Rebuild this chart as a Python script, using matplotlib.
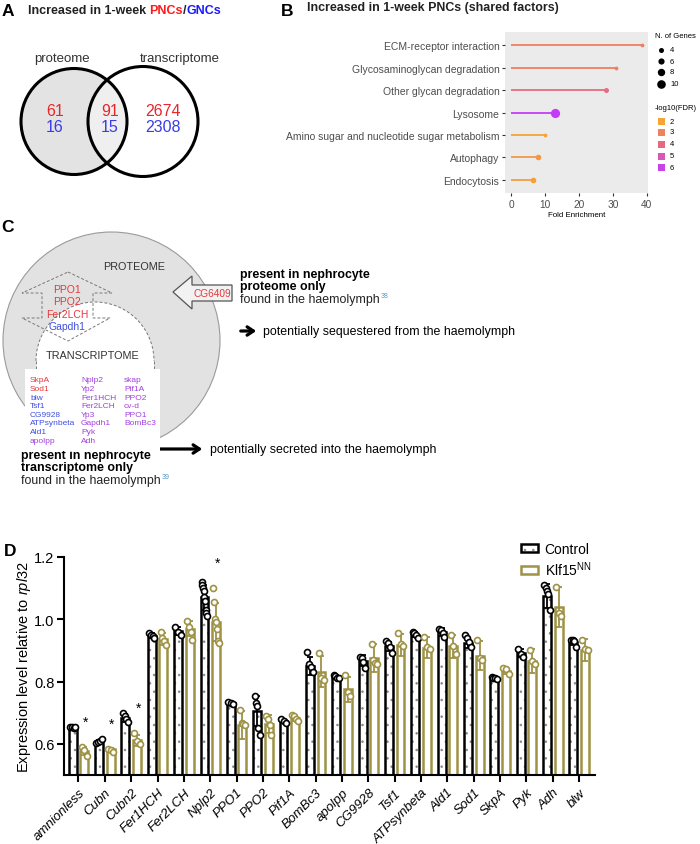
import numpy as np
import matplotlib
matplotlib.use("Agg")
import matplotlib.pyplot as plt
from matplotlib.patches import Circle, Polygon, Rectangle, Wedge, Patch
from matplotlib.colors import LinearSegmentedColormap, Normalize
from matplotlib.legend_handler import HandlerTuple

plt.rcParams['font.family'] = ['Liberation Sans', 'DejaVu Sans']
plt.rcParams['mathtext.fontset'] = 'custom'
plt.rcParams['mathtext.rm'] = 'Liberation Sans'
plt.rcParams['mathtext.it'] = 'Liberation Sans:italic'
plt.rcParams['hatch.linewidth'] = 0.6

# ---- panel A: venn counts
venn_pnc = [61, 91, 2674]
venn_gnc = [16, 15, 2308]

# ---- panel B: enrichment
terms = ['ECM-receptor interaction', 'Glycosaminoglycan degradation',
         'Other glycan degradation', 'Lysosome',
         'Amino sugar and nucleotide sugar metabolism', 'Autophagy', 'Endocytosis']
fold = [38.7, 31.0, 28.0, 13.0, 10.0, 7.8, 6.3]
n_genes = [2, 2, 4, 11, 2, 5, 5]
fdr = [3.1, 3.1, 3.9, 6.3, 2.1, 2.4, 2.2]
size_keys = [4, 6, 8, 10]
fdr_keys = [2, 3, 4, 5, 6]

# ---- panel C: gene lists
col1 = [('SkpA', 'r'), ('Sod1', 'r'), ('blw', 'b'), ('Tsf1', 'b'), ('CG9928', 'b'),
        ('ATPsynbeta', 'b'), ('Ald1', 'b'), ('apolpp', 'p')]
col2 = ['Nplp2', 'Yp2', 'Fer1HCH', 'Fer2LCH', 'Yp3', 'Gapdh1', 'Pyk', 'Adh']
col3 = ['skap', 'Pif1A', 'PPO2', 'cv-d', 'PPO1', 'BomBc3']
shared = [('PPO1', 'r'), ('PPO2', 'r'), ('Fer2LCH', 'r'), ('Gapdh1', 'b')]

# ---- panel D: qPCR
genes = ['amnionless', 'Cubn', 'Cubn2', 'Fer1HCH', 'Fer2LCH', 'Nplp2', 'PPO1', 'PPO2',
         'Pif1A', 'BomBc3', 'apolpp', 'CG9928', 'Tsf1', 'ATPsynbeta', 'Ald1', 'Sod1',
         'SkpA', 'Pyk', 'Adh', 'blw']
ctrl_mean = [0.653, 0.607, 0.683, 0.947, 0.962, 1.071, 0.731, 0.706, 0.672, 0.850,
             0.815, 0.867, 0.913, 0.950, 0.959, 0.924, 0.810, 0.892, 1.075, 0.927]
ctrl_sd = [0.003, 0.006, 0.012, 0.008, 0.012, 0.040, 0.004, 0.049, 0.006, 0.030,
           0.005, 0.018, 0.015, 0.008, 0.013, 0.015, 0.003, 0.014, 0.038, 0.010]
klf_mean = [0.578, 0.582, 0.611, 0.937, 0.970, 0.991, 0.662, 0.664, 0.683, 0.832,
            0.775, 0.876, 0.918, 0.909, 0.913, 0.883, 0.833, 0.867, 1.040, 0.901]
klf_sd = [0.013, 0.005, 0.019, 0.018, 0.025, 0.062, 0.045, 0.030, 0.008, 0.050,
          0.040, 0.044, 0.035, 0.034, 0.037, 0.047, 0.010, 0.038, 0.065, 0.035]
ctrl_pts = [[0.655, 0.653, 0.652, 0.653], [0.602, 0.605, 0.608, 0.615],
            [0.700, 0.690, 0.680, 0.670], [0.955, 0.950, 0.945, 0.940],
            [0.975, 0.960, 0.950], [1.12, 1.11, 1.10, 1.09, 1.07, 1.06, 1.03, 1.02, 1.01],
            [0.735, 0.730, 0.728], [0.755, 0.730, 0.720, 0.650, 0.630],
            [0.680, 0.675, 0.668], [0.895, 0.855, 0.848, 0.830],
            [0.820, 0.818, 0.812, 0.810], [0.880, 0.875, 0.862, 0.845],
            [0.930, 0.925, 0.910, 0.893], [0.958, 0.955, 0.950, 0.940],
            [0.970, 0.965, 0.955, 0.942], [0.950, 0.940, 0.928, 0.910],
            [0.814, 0.812, 0.810, 0.808], [0.905, 0.890, 0.878],
            [1.110, 1.100, 1.090, 1.080, 1.030], [0.935, 0.932, 0.930, 0.910]]
klf_pts = [[0.590, 0.580, 0.560], [0.585, 0.580, 0.575], [0.635, 0.610, 0.600],
           [0.960, 0.940, 0.930, 0.918], [0.995, 0.975, 0.960, 0.935],
           [1.10, 1.055, 1.00, 0.99, 0.97, 0.93, 0.925], [0.710, 0.668, 0.664, 0.660],
           [0.690, 0.680, 0.660, 0.630], [0.692, 0.690, 0.680, 0.672],
           [0.893, 0.812, 0.805], [0.820, 0.765, 0.755], [0.920, 0.870, 0.860, 0.855],
           [0.955, 0.920, 0.915], [0.943, 0.910, 0.905], [0.950, 0.915, 0.890],
           [0.932, 0.876, 0.870], [0.845, 0.840, 0.825], [0.900, 0.866, 0.855],
           [1.105, 1.020, 1.010], [0.935, 0.905, 0.900]]
signif = ['amnionless', 'Cubn', 'Cubn2', 'Nplp2']

RED = '#e8262b'
BLUE = '#3b3bea'
PURPLE = '#a23fe0'
OLIVE = '#9e9245'
gene_col = {'r': '#e6383c', 'b': '#3f4fe0', 'p': PURPLE}

fig = plt.figure(figsize=(7, 8.45), dpi=100)
ov = fig.add_axes([0, 0, 1, 1])
ov.set_xlim(0, 700)
ov.set_ylim(845, 0)
ov.axis('off')
ov.patch.set_alpha(0)
renderer = fig.canvas.get_renderer()


def seq_text(x, y, pieces, **kw):
    # draw a run of differently coloured text pieces one after another
    for s, c in pieces:
        t = ov.text(x, y, s, color=c, va='center', ha='left', **kw)
        x += t.get_window_extent(renderer).width
    return x


# ================= A
ov.text(8, 11, 'A', fontsize=12.5, fontweight='bold', va='center', ha='center')
seq_text(28, 11, [('Increased in 1-week ', '#222222'), ('PNCs', '#ff1a1a'),
                  ('/', '#222222'), ('GNCs', '#1a1aff')], fontsize=9, fontweight='bold')
ov.add_patch(Circle((74, 122.5), 53, fc='#e3e3e3', ec='none', zorder=1))
ov.add_patch(Circle((143, 122.5), 55, fc='white', alpha=0.45, ec='none', zorder=2))
ov.add_patch(Circle((74, 122.5), 53, fc='none', ec='black', lw=2.2, zorder=3))
ov.add_patch(Circle((143, 122.5), 55, fc='none', ec='black', lw=2.2, zorder=3))
ov.text(62, 59, 'proteome', fontsize=9.5, color='#333333', ha='center', va='center')
ov.text(180, 59, 'transcriptome', fontsize=9.5, color='#333333', ha='center', va='center')
for xx, a, b in zip([55, 110, 163], venn_pnc, venn_gnc):
    ov.text(xx, 112, str(a), fontsize=11.5, color=RED, ha='center', va='center', zorder=4)
    ov.text(xx, 127.5, str(b), fontsize=11.5, color=BLUE, ha='center', va='center', zorder=4)

# ================= B
ov.text(287, 12, 'B', fontsize=12.5, fontweight='bold', va='center', ha='center')
ov.text(307, 8.5, 'Increased in 1-week PNCs (shared factors)', fontsize=8.9,
        fontweight='bold', va='center', ha='left', color='#222222')
cmap = LinearSegmentedColormap.from_list(
    'fdr', ['#f4a634', '#ef7f63', '#e5658a', '#d455c4', '#c43cf8'])
norm = Normalize(2, 6.3)


def dot_size(n):
    d_px = 2.6 + 0.6 * n
    return (d_px / 1.389) ** 2


axb = fig.add_axes([505 / 700, 1 - 194 / 845, 143 / 700, 161 / 845])
axb.set_facecolor('#ebebeb')
ypos = np.arange(len(terms))[::-1]
for yv, f, n, q in zip(ypos, fold, n_genes, fdr):
    c = cmap(norm(q))
    axb.plot([0, f], [yv, yv], color=c, lw=1.3, solid_capstyle='butt', zorder=2)
    axb.scatter([f], [yv], s=dot_size(n), color=c, zorder=3, lw=0)
axb.set_xlim(-1.9, 40.4)
axb.set_ylim(-0.6, len(terms) - 0.4)
axb.set_yticks(ypos)
axb.set_yticklabels(terms, fontsize=7.5, color='#4d4d4d')
axb.set_xticks([0, 10, 20, 30, 40])
axb.tick_params(axis='x', labelsize=7.3, labelcolor='#4d4d4d', length=2.5, color='#333333', pad=1.5)
axb.tick_params(axis='y', length=2.5, color='#333333', pad=1.5)
axb.set_xlabel('Fold Enrichment', fontsize=5.7, labelpad=1.5)
for s in axb.spines.values():
    s.set_visible(False)

# legend B
ov.text(655, 37, 'N. of Genes', fontsize=5.5, va='center', ha='left')
for yy, n in zip([51, 62, 73, 85], size_keys):
    ov.scatter([661], [yy], s=dot_size(n), color='black', lw=0)
    ov.text(670, yy, str(n), fontsize=5.5, va='center', ha='left')
ov.text(655, 108, '-log10(FDR)', fontsize=5.5, va='center', ha='left')
for yy, q in zip([122, 133, 145, 157, 168], fdr_keys):
    ov.add_patch(Rectangle((657.5, yy - 3.5), 7, 7, fc=cmap(norm(q)), ec='none'))
    ov.text(670, yy, str(q), fontsize=5.5, va='center', ha='left')

# ================= C
ov.text(8, 227, 'C', fontsize=12.5, fontweight='bold', va='center', ha='center')
ov.add_patch(Circle((111.5, 341.5), 108.5, fc='#e2e2e2', ec='#9a9a9a', lw=0.8, zorder=1))
# transcriptome region (white, dashed outline)
ov.add_patch(Wedge((95, 362), 59, 180, 360, fc='white', ec='none', zorder=2))
ov.add_patch(Rectangle((36, 361), 118, 12, fc='white', ec='none', zorder=2))
th = np.linspace(np.pi, 2 * np.pi, 60)
ov.plot(95 + 59 * np.cos(th), 362 + 59 * np.sin(th), ls=(0, (3, 2)), color='#777777', lw=0.7, zorder=3)
ov.plot([36, 36], [362, 372], ls=(0, (3, 2)), color='#777777', lw=0.7, zorder=3)
ov.plot([154, 154], [362, 372], ls=(0, (3, 2)), color='#777777', lw=0.7, zorder=3)
# double arrow between proteome and transcriptome
arrow_pts = [(68, 273), (112, 294), (93, 294), (93, 319), (110, 319), (68, 342),
             (22, 319), (42, 319), (42, 294), (22, 294)]
ov.add_patch(Polygon(arrow_pts, closed=True, fc='none', ec='#777777', lw=0.7,
                     ls=(0, (3, 2)), zorder=4))
ov.text(134, 267, 'PROTEOME', fontsize=7.8, color='#333333', ha='center', va='center', zorder=5)
ov.text(93, 356, 'TRANSCRIPTOME', fontsize=7.8, color='#333333', ha='center', va='center', zorder=5)
for k, (g, c) in enumerate(shared):
    ov.text(67, 290 + 12.3 * k, g, fontsize=7.5, color=gene_col[c], ha='center',
            va='center', zorder=5)
# gene list box
ov.add_patch(Rectangle((25, 370), 135, 82, fc='white', ec='none', zorder=5))
for k, (g, c) in enumerate(col1):
    ov.text(30, 381 + 8.6 * k, g, fontsize=6, color=gene_col[c], va='center', zorder=6)
for k, g in enumerate(col2):
    ov.text(81, 381 + 8.6 * k, g, fontsize=6, color=PURPLE, va='center', zorder=6)
for k, g in enumerate(col3):
    ov.text(124, 381 + 8.6 * k, g, fontsize=6, color=PURPLE, va='center', zorder=6)
# CG6409 arrow
ov.add_patch(Polygon([(173, 293), (192, 277), (192, 286), (232, 286), (232, 302),
                      (192, 302), (192, 310)], closed=True, fc='#f2f2f2',
                     ec='#555555', lw=0.9, zorder=5))
ov.text(212, 294, 'CG6409', fontsize=7.3, color='#e6383c', ha='center', va='center', zorder=6)

fs_c = 8.9
ov.text(240, 275, 'present in nephrocyte', fontsize=fs_c, fontweight='bold', va='center')
ov.text(240, 287.5, 'proteome only', fontsize=fs_c, fontweight='bold', va='center')
xe = seq_text(240, 300.5, [('found in the haemolymph', '#222222')], fontsize=fs_c)
ov.text(xe + 1.5, 297, '38', fontsize=5, color='#5a9ac0', va='center')
ov.annotate('', xy=(259, 332), xytext=(238, 332),
            arrowprops=dict(arrowstyle='->,head_length=0.45,head_width=0.3', lw=2.3, color='black'))
ov.text(263, 332.5, 'potentially sequestered from the haemolymph', fontsize=fs_c, va='center')

ov.text(21, 456.5, 'present in nephrocyte', fontsize=fs_c, fontweight='bold', va='center')
ov.text(21, 468.5, 'transcriptome only', fontsize=fs_c, fontweight='bold', va='center')
xe = seq_text(21, 481.5, [('found in the haemolymph', '#222222')], fontsize=fs_c)
ov.text(xe + 1.5, 478, '39', fontsize=5, color='#5a9ac0', va='center')
ov.annotate('', xy=(205, 450), xytext=(157, 450),
            arrowprops=dict(arrowstyle='->,head_length=0.45,head_width=0.3', lw=2.3, color='black'))
ov.text(210, 450.5, 'potentially secreted into the haemolymph', fontsize=fs_c, va='center')

# ================= D
ov.text(10, 552, 'D', fontsize=12.5, fontweight='bold', va='center', ha='center')
axd = fig.add_axes([64 / 700, 1 - 776 / 845, 531 / 700, 218 / 845])
x = np.arange(len(genes))
off, w = 0.22, 0.3
axd.bar(x - off, ctrl_mean, w, fc='white', ec='#8a8a8a', hatch='..', lw=0, zorder=1)
axd.bar(x - off, ctrl_mean, w, fc='none', ec='black', lw=1.8, zorder=2)
axd.bar(x + off, klf_mean, w, fc='white', ec=OLIVE, lw=1.8, zorder=2)
axd.errorbar(x - off, ctrl_mean, yerr=ctrl_sd, fmt='none', ecolor='black', elinewidth=1.3,
             capsize=2.5, capthick=1.3, zorder=3)
axd.errorbar(x + off, klf_mean, yerr=klf_sd, fmt='none', ecolor=OLIVE, elinewidth=1.3,
             capsize=2.5, capthick=1.3, zorder=3)
for i in range(len(genes)):
    for pts, sgn, col in [(ctrl_pts[i], -1, 'black'), (klf_pts[i], 1, OLIVE)]:
        jit = np.linspace(-0.1, 0.1, len(pts))
        axd.plot(i + sgn * off + jit, pts, 'o', ms=4.3, mfc='white', mec=col, mew=1.2,
                 zorder=4, clip_on=False)
    if genes[i] in signif:
        axd.text(i + off + 0.05, max(klf_pts[i]) + 0.08, '*', fontsize=10,
                 ha='center', va='center')
axd.set_xlim(-0.55, 19.6)
axd.set_ylim(0.5, 1.2)
axd.set_yticks([0.6, 0.8, 1.0, 1.2])
axd.set_yticklabels(['0.6', '0.8', '1.0', '1.2'])
axd.set_xticks(x)
axd.set_xticklabels(genes, rotation=45, ha='right', va='top', rotation_mode='anchor',
                    fontstyle='italic', fontsize=9.5)
axd.tick_params(axis='y', labelsize=10.5, length=5, width=1.5, pad=2)
axd.tick_params(axis='x', length=5, width=1.5, pad=3)
axd.spines['top'].set_visible(False)
axd.spines['right'].set_visible(False)
axd.spines['left'].set_linewidth(1.5)
axd.spines['bottom'].set_linewidth(1.5)
axd.set_ylabel('Expression level relative to $\\it{rpl32}$', fontsize=10.5, labelpad=1)

h_ctrl = (Patch(fc='white', ec='#8a8a8a', hatch='..', lw=0), Patch(fc='none', ec='black', lw=1.8))
h_klf = Patch(fc='white', ec=OLIVE, lw=1.8)
fig.legend([h_ctrl, h_klf], ['Control', 'Klf15$^{\\mathrm{NN}}$'],
           handler_map={tuple: HandlerTuple(ndivide=1)},
           loc='upper left', bbox_to_anchor=(514 / 700, 1 - 536 / 845), frameon=False,
           fontsize=10, handlelength=1.2, handleheight=0.5, handletextpad=0.5,
           labelspacing=0.25, borderpad=0)

fig.savefig('out.png', dpi=100)
